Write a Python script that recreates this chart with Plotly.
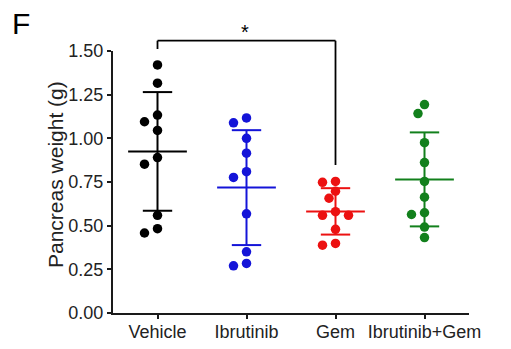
import numpy as np
import plotly.graph_objects as go

categories = ["Vehicle", "Ibrutinib", "Gem", "Ibrutinib+Gem"]
vehicle = [1.42, 1.316, 1.133, 1.095, 1.045, 0.890, 0.852, 0.559, 0.483, 0.458]
ibrutinib = [1.117, 1.089, 1.000, 0.915, 0.809, 0.776, 0.568, 0.350, 0.284, 0.270]
gem = [0.753, 0.748, 0.697, 0.657, 0.580, 0.559, 0.559, 0.479, 0.398, 0.388]
ibru_gem = [1.193, 1.142, 0.975, 0.861, 0.753, 0.663, 0.574, 0.564, 0.492, 0.432]
ytick_vals = [0.0, 0.25, 0.5, 0.75, 1.0, 1.25, 1.5]
ytick_text = ["0.00", "0.25", "0.50", "0.75", "1.00", "1.25", "1.50"]

groups = [vehicle, ibrutinib, gem, ibru_gem]
colors = ["#000000", "#1414d8", "#ec1111", "#12801c"]

W, H = 511, 349
ML, MR, MT, MB = 113, 42, 51, 36
plot_w = W - ML - MR
plot_h = H - MT - MB
x_range = [-0.5, 3.5]
y_range = [0.0, 1.5]
px_per_cat = plot_w / (x_range[1] - x_range[0])
px_per_unit = plot_h / (y_range[1] - y_range[0])

slot_px = 6.5
min_d = 9.5


def swarm(vals):
    vals = np.asarray(vals, dtype=float)
    order = np.argsort(-vals)
    placed = []
    offs = np.zeros(len(vals))
    for i in order:
        chosen = 0
        for k in [0, -1, 1, -2, 2, -3, 3]:
            ok = True
            for pk, pv in placed:
                dx = (k - pk) * slot_px
                dy = (vals[i] - pv) * px_per_unit
                if dx * dx + dy * dy < min_d * min_d:
                    ok = False
                    break
            if ok:
                chosen = k
                break
        placed.append((chosen, vals[i]))
        offs[i] = chosen * slot_px / px_per_cat
    return offs


fig = go.Figure()
font_family = "Liberation Sans, Arial, sans-serif"
axis_col = "#1a1a1a"

mean_half = 0.33
cap_half = 0.165
for gi, (vals, col) in enumerate(zip(groups, colors)):
    v = np.asarray(vals)
    m = v.mean()
    sd = v.std(ddof=1)
    xs = [gi - mean_half, gi + mean_half, None,
          gi, gi, None,
          gi - cap_half, gi + cap_half, None,
          gi - cap_half, gi + cap_half]
    ys = [m, m, None,
          m - sd, m + sd, None,
          m + sd, m + sd, None,
          m - sd, m - sd]
    fig.add_trace(go.Scatter(x=xs, y=ys, mode="lines",
                             line=dict(color=col, width=2),
                             hoverinfo="skip", showlegend=False))
    offs = swarm(v)
    fig.add_trace(go.Scatter(x=gi + offs, y=v, mode="markers",
                             marker=dict(color=col, size=9.5, line=dict(width=0)),
                             cliponaxis=False, showlegend=False))


def paper_y(px_from_top):
    return (H - MB - px_from_top) / plot_h


def paper_x(px_from_left):
    return (px_from_left - ML) / plot_w


# significance bracket (Vehicle vs Gem)
br_top = paper_y(40.7)
left_end = paper_y(49)
right_end = paper_y(165)
for x0, x1, y0, y1 in [(0, 0, left_end, br_top), (0, 2, br_top, br_top), (2, 2, right_end, br_top)]:
    fig.add_shape(type="line", xref="x", yref="paper", x0=x0, x1=x1, y0=y0, y1=y1,
                  line=dict(color="black", width=1.8))
fig.add_annotation(x=0.98, xref="x", y=paper_y(32.5), yref="paper", text="*",
                   showarrow=False, xanchor="center", yanchor="middle",
                   font=dict(size=20, color="black", family=font_family))

# panel letter
fig.add_annotation(x=paper_x(20.5), xref="paper", y=paper_y(23), yref="paper", text="F",
                   showarrow=False, xanchor="center", yanchor="middle",
                   font=dict(size=30, color="black", family=font_family))

# y-axis title
fig.add_annotation(x=paper_x(55), xref="paper", y=paper_y(175), yref="paper",
                   text="Pancreas weight (g)", textangle=-90, showarrow=False,
                   xanchor="center", yanchor="middle",
                   font=dict(size=21, color="#222222", family=font_family))

fig.update_layout(
    width=W, height=H,
    margin=dict(l=ML, r=MR, t=MT, b=MB, pad=0, autoexpand=False),
    paper_bgcolor="white", plot_bgcolor="white",
    font=dict(family=font_family, size=18, color="#222222"),
    showlegend=False,
    xaxis=dict(range=x_range, tickvals=[0, 1, 2, 3], ticktext=categories,
               automargin=False, ticklabelstandoff=-3,
               showgrid=False, zeroline=False, showline=True, linecolor=axis_col,
               linewidth=2, ticks="outside", ticklen=4, tickcolor=axis_col, tickwidth=1.5,
               tickfont=dict(size=18, color="#222222"), fixedrange=True),
    yaxis=dict(range=y_range, tickvals=ytick_vals, ticktext=ytick_text,
               automargin=False,
               showgrid=False, zeroline=False, showline=True, linecolor=axis_col,
               linewidth=2, ticks="outside", ticklen=4, tickcolor=axis_col, tickwidth=1.5,
               tickfont=dict(size=18, color="#222222"), fixedrange=True),
)

fig.write_html("out.html", config={"displayModeBar": False},
               post_script="document.body.style.margin='0px';")
